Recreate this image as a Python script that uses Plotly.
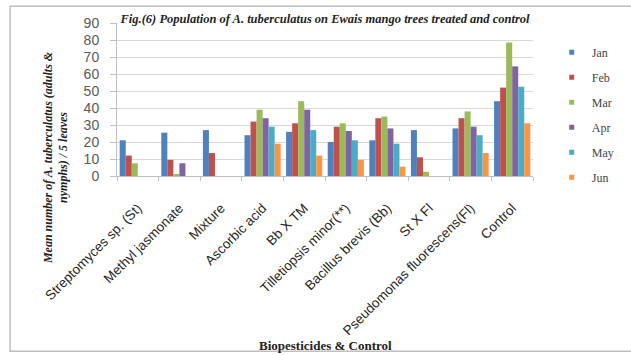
import plotly.graph_objects as go

# Treatments (x categories) and monthly mean counts per treatment
treatments = [
    "Streptomyces sp. (St)", "Methyl jasmonate", "Mixture", "Ascorbic acid",
    "Bb X TM", "Tilletiopsis minor(**)", "Bacillus brevis (Bb)", "St X Fl",
    "Pseudomonas fluorescens(Fl)", "Control",
]
months = ["Jan", "Feb", "Mar", "Apr", "May", "Jun"]

jan = [21, 25.5, 27, 24, 26, 20, 21, 27, 28, 44]
feb = [12, 9.5, 13.5, 32, 31, 29, 34, 11, 34, 52]
mar = [7.5, 1, 0, 39, 44, 31, 35, 2.5, 38, 78.5]
apr = [0, 7.5, 0, 34, 39, 26.5, 28, 0, 29, 64.5]
may = [0, 0, 0, 29, 27, 21, 19, 0, 24, 52.5]
jun = [0, 0, 0, 19, 12, 9.5, 5.5, 0, 13.5, 31]

series = [jan, feb, mar, apr, may, jun]
colors = ["#4F81BD", "#C0504D", "#9BBB59", "#8064A2", "#4BACC6", "#F79646"]

fig = go.Figure()
for name, vals, col in zip(months, series, colors):
    fig.add_trace(go.Bar(
        x=treatments, y=vals, name=name, marker_color=col,
        marker_line_width=0, showlegend=False,
    ))
# small square legend keys
for name, col in zip(months, colors):
    fig.add_trace(go.Scatter(
        x=[None], y=[None], mode="markers", name=name, legendgroup=name,
        marker=dict(symbol="square", size=5, color=col),
    ))

serif = "Liberation Serif"
fig.update_layout(
    width=631, height=355,
    margin=dict(l=117, r=87, t=23, b=179),
    paper_bgcolor="white", plot_bgcolor="white",
    barmode="group", bargap=0.13, bargroupgap=0,
    title=dict(
        text="<b><i>Fig.(6) Population of A. tuberculatus on Ewais mango trees treated and control</i></b>",
        x=0.5, xref="paper", xanchor="center", y=1, yref="paper", yanchor="bottom",
        pad=dict(b=0),
        font=dict(family=serif, size=12.5, color="#222222"),
    ),
    legend=dict(
        x=1.045, xanchor="left", y=0.40, yanchor="middle",
        font=dict(family=serif, size=12, color="#444444"),
        traceorder="grouped", tracegroupgap=6, itemwidth=30,
        bgcolor="rgba(0,0,0,0)", maxheight=340,
    ),
    xaxis=dict(
        type="category", tickangle=-45, tickson="boundaries",
        ticks="outside", ticklen=4, tickcolor="#bfbfbf",
        showline=True, linecolor="#bfbfbf", linewidth=1,
        showgrid=False, ticklabelstandoff=18,
        tickfont=dict(family="Liberation Sans", size=13.5, color="#262626"),
    ),
    yaxis=dict(
        range=[0, 90], dtick=10, ticks="outside", ticklen=6, tickcolor="#bfbfbf",
        showline=True, linecolor="#bfbfbf", linewidth=1,
        showgrid=True, gridcolor="#d9d9d9", gridwidth=1,
        zeroline=False, ticklabelstandoff=8,
        tickfont=dict(family="Liberation Sans", size=14, color="#595959"),
    ),
    annotations=[
        dict(
            text="<b><i>Mean number of A. tuberculatus (adults &<br>nymphs) / 5 leaves</i></b>",
            textangle=-90, xref="paper", yref="paper",
            x=-0.148, y=0.12, xanchor="center", yanchor="middle",
            showarrow=False, align="center",
            font=dict(family=serif, size=12, color="#222222"),
        ),
        dict(
            text="<b>Biopesticides & Control</b>",
            xref="paper", yref="paper", x=0.5, y=-1.11,
            xanchor="center", yanchor="middle", showarrow=False,
            font=dict(family=serif, size=13, color="#222222"),
        ),
    ],
    shapes=[dict(
        type="rect", xref="paper", yref="paper",
        x0=-0.257, x1=1.25, y0=-1.146, y1=1.11,
        line=dict(color="#bfbfbf", width=1.5), fillcolor="rgba(0,0,0,0)",
        layer="below",
    )],
)

fig.write_html("out.html")
